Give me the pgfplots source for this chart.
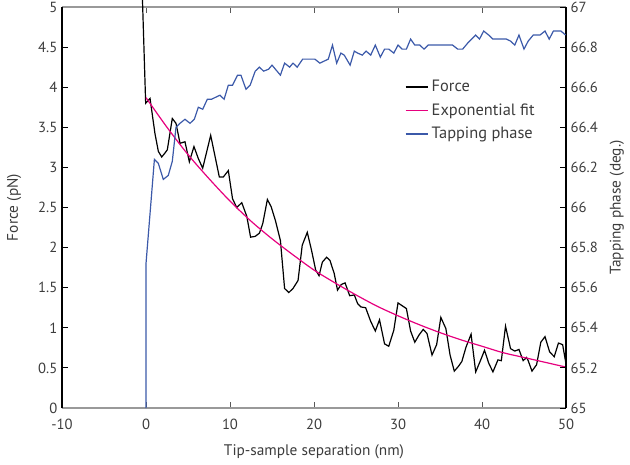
\documentclass[border=0pt]{standalone}
\usepackage{pgfplots}
\pgfplotsset{compat=1.18}
\usepackage{fontspec}
\setmainfont{PT Sans}
\definecolor{fitmag}{RGB}{230,0,126}
\definecolor{phblue}{RGB}{59,89,169}
\definecolor{txtgray}{RGB}{60,60,60}
\begin{document}
\begin{tikzpicture}[x=0.75pt,y=0.75pt]
\useasboundingbox (-46.5pt,-42pt) rectangle (426pt,306pt);
\pgfplotsset{
  common/.style={
    scale only axis,
    width=378pt, height=300.75pt,
    xmin=-10, xmax=50,
    /pgf/number format/assume math mode=true,
    tick align=inside,
    major tick length=4.5pt,
    xtick style={gray!70!black, line width=0.6pt},
    ytick style={black, line width=0.7pt},
    tick label style={font=\fontsize{11}{13}\selectfont, text=txtgray},
    label style={font=\fontsize{11.5}{13}\selectfont, text=txtgray},
  }
}
\begin{axis}[common,
  separate axis lines,
  axis x line*=box, axis y line*=left,
  x axis line style={gray!80, line width=0.8pt},
  y axis line style={black, line width=0.9pt},
  xtick={-10,0,10,20,30,40,50},
  xticklabel style={yshift=-5pt},
  ymin=0, ymax=5,
  ytick={0,0.5,1,1.5,2,2.5,3,3.5,4,4.5,5},
  yticklabels={0,0.5,1,1.5,2,2.5,3,3.5,4,4.5,5},
  xlabel={Tip-sample separation (nm)},
  ylabel={Force (pN)},
  xlabel style={at={(axis description cs:0.5,-0.11)}, anchor=center},
  ylabel style={at={(axis description cs:-0.095,0.5)}, anchor=center},
  clip=false,
]
\addplot[black, line width=0.9pt] coordinates {
(-0.42,5.09) (-0.04,3.80) (0.48,3.86) (1.07,3.42) (1.47,3.20) (1.87,3.13)
(2.26,3.18) (2.54,3.22) (3.13,3.61) (3.57,3.55) (4.05,3.30) (4.64,3.32)
(5.16,3.07) (5.71,3.26) (6.23,3.11) (6.75,2.99) (7.70,3.40) (8.73,2.88)
(9.2,2.88) (9.8,2.96) (10.3,2.61) (10.8,2.50) (11.4,2.56) (12.0,2.39)
(12.45,2.13) (13.0,2.14) (13.5,2.18) (13.9,2.30) (14.45,2.60) (14.9,2.51)
(15.4,2.34) (16.0,2.09) (16.5,1.49) (17.0,1.44) (17.5,1.49) (18.1,1.59)
(18.6,2.03) (19.2,2.19) (19.7,1.97) (20.2,1.72) (20.6,1.65) (21.0,1.82)
(21.5,1.88) (21.9,1.84) (22.4,1.68) (22.8,1.47) (23.25,1.54) (23.7,1.56)
(24.25,1.40) (24.8,1.41) (25.2,1.30) (25.6,1.26) (26.15,1.25) (26.75,1.08)
(27.3,0.96) (27.8,1.10) (28.4,0.80) (28.9,0.77) (29.5,0.97) (30.0,1.31)
(31.0,1.24) (31.5,0.96) (32.0,0.82) (32.5,0.91) (33.0,0.98) (33.45,0.93)
(34.05,0.66) (34.6,0.79) (35.1,1.13) (35.7,0.99) (36.2,0.66) (36.7,0.46)
(37.2,0.52) (37.6,0.58) (38.1,0.76) (38.7,0.92) (39.25,0.45) (39.85,0.60)
(40.3,0.72) (40.8,0.56) (41.3,0.45) (41.9,0.60) (42.3,0.59) (42.8,1.02)
(43.4,0.74) (43.9,0.71) (44.4,0.73) (44.9,0.59) (45.3,0.63) (45.5,0.59)
(45.95,0.46) (46.5,0.54) (47.0,0.82) (47.5,0.89) (48.05,0.70) (48.6,0.64)
(49.1,0.81) (49.6,0.79) (50.0,0.55)
};
\addplot[fitmag, line width=0.9pt, smooth] coordinates {
(0,3.87) (2.5,3.50) (5,3.16) (7.5,2.86) (10,2.58) (12.5,2.33) (15,2.11)
(17.5,1.91) (20,1.72) (22.5,1.56) (25,1.41) (27.5,1.27) (30,1.15)
(32.5,1.04) (35,0.94) (37.5,0.85) (40,0.77) (42.5,0.69) (45,0.63)
(47.5,0.57) (50,0.51)
};
\end{axis}
\begin{axis}[common,
  axis x line=none,
  axis y line*=right,
  y axis line style={black, line width=0.9pt},
  ymin=65, ymax=67,
  ytick={65,65.2,65.4,65.6,65.8,66,66.2,66.4,66.6,66.8,67},
  yticklabels={65,65.2,65.4,65.6,65.8,66,66.2,66.4,66.6,66.8,67},
  ylabel={Tapping phase (deg.)},
  ylabel style={at={(axis description cs:1.101,0.5)}, anchor=center, rotate=0},
  legend style={at={(rel axis cs:0.672,0.831)}, anchor=north west, draw=none, fill=none,
    font=\fontsize{12.3}{14}\selectfont, text=txtgray, row sep=3.4pt},
  legend cell align=left,
]
\addlegendimage{black, line width=1pt}
\addlegendentry{Force}
\addlegendimage{fitmag, line width=1pt}
\addlegendentry{Exponential fit}
\addplot[phblue, line width=0.9pt, forget plot] coordinates {
(0,65.0) (0,65.72) (1.0,66.24) (1.47,66.22) (2.06,66.14) (2.65,66.16)
(3.13,66.23) (3.57,66.40) (4.05,66.42) (4.64,66.44) (5.24,66.42) (5.75,66.44)
(6.23,66.50) (6.75,66.49) (7.30,66.54) (7.8,66.54) (8.3,66.55) (8.8,66.56)
(9.3,66.54) (9.8,66.61) (10.3,66.61) (10.9,66.66) (11.3,66.66) (11.9,66.59)
(12.4,66.61) (13.0,66.68) (13.5,66.70) (14.0,66.68) (14.6,66.69) (15.0,66.71)
(15.6,66.68) (16.0,66.66) (16.5,66.72) (17.1,66.70) (17.5,66.72) (18.0,66.70)
(18.65,66.74) (20.1,66.74) (20.7,66.72) (21.2,66.73) (21.7,66.74) (22.2,66.81)
(22.7,66.72) (23.2,66.77) (23.6,66.76) (24.3,66.71) (24.8,66.78) (25.2,66.77)
(25.75,66.76) (26.2,66.78) (26.75,66.76) (27.3,66.81) (27.9,66.75) (28.4,66.79)
(28.9,66.79) (29.5,66.77) (30.0,66.81) (30.5,66.79) (31.0,66.79) (31.5,66.84)
(32.0,66.81) (32.6,66.81) (33.1,66.79) (33.6,66.81) (36.5,66.81) (37.1,66.79)
(37.7,66.79) (38.3,66.82) (39.25,66.86) (39.7,66.84) (40.2,66.88) (40.8,66.86)
(41.3,66.84) (42.3,66.84) (42.9,66.84) (43.4,66.83) (43.9,66.81) (44.4,66.86)
(45.0,66.79) (45.5,66.83) (46.1,66.86) (46.9,66.86) (47.5,66.88) (48.0,66.84)
(48.5,66.88) (49.4,66.88) (49.95,66.86)
};
\addlegendimage{phblue, line width=1pt}
\addlegendentry{Tapping phase}
\end{axis}
\end{tikzpicture}
\end{document}
